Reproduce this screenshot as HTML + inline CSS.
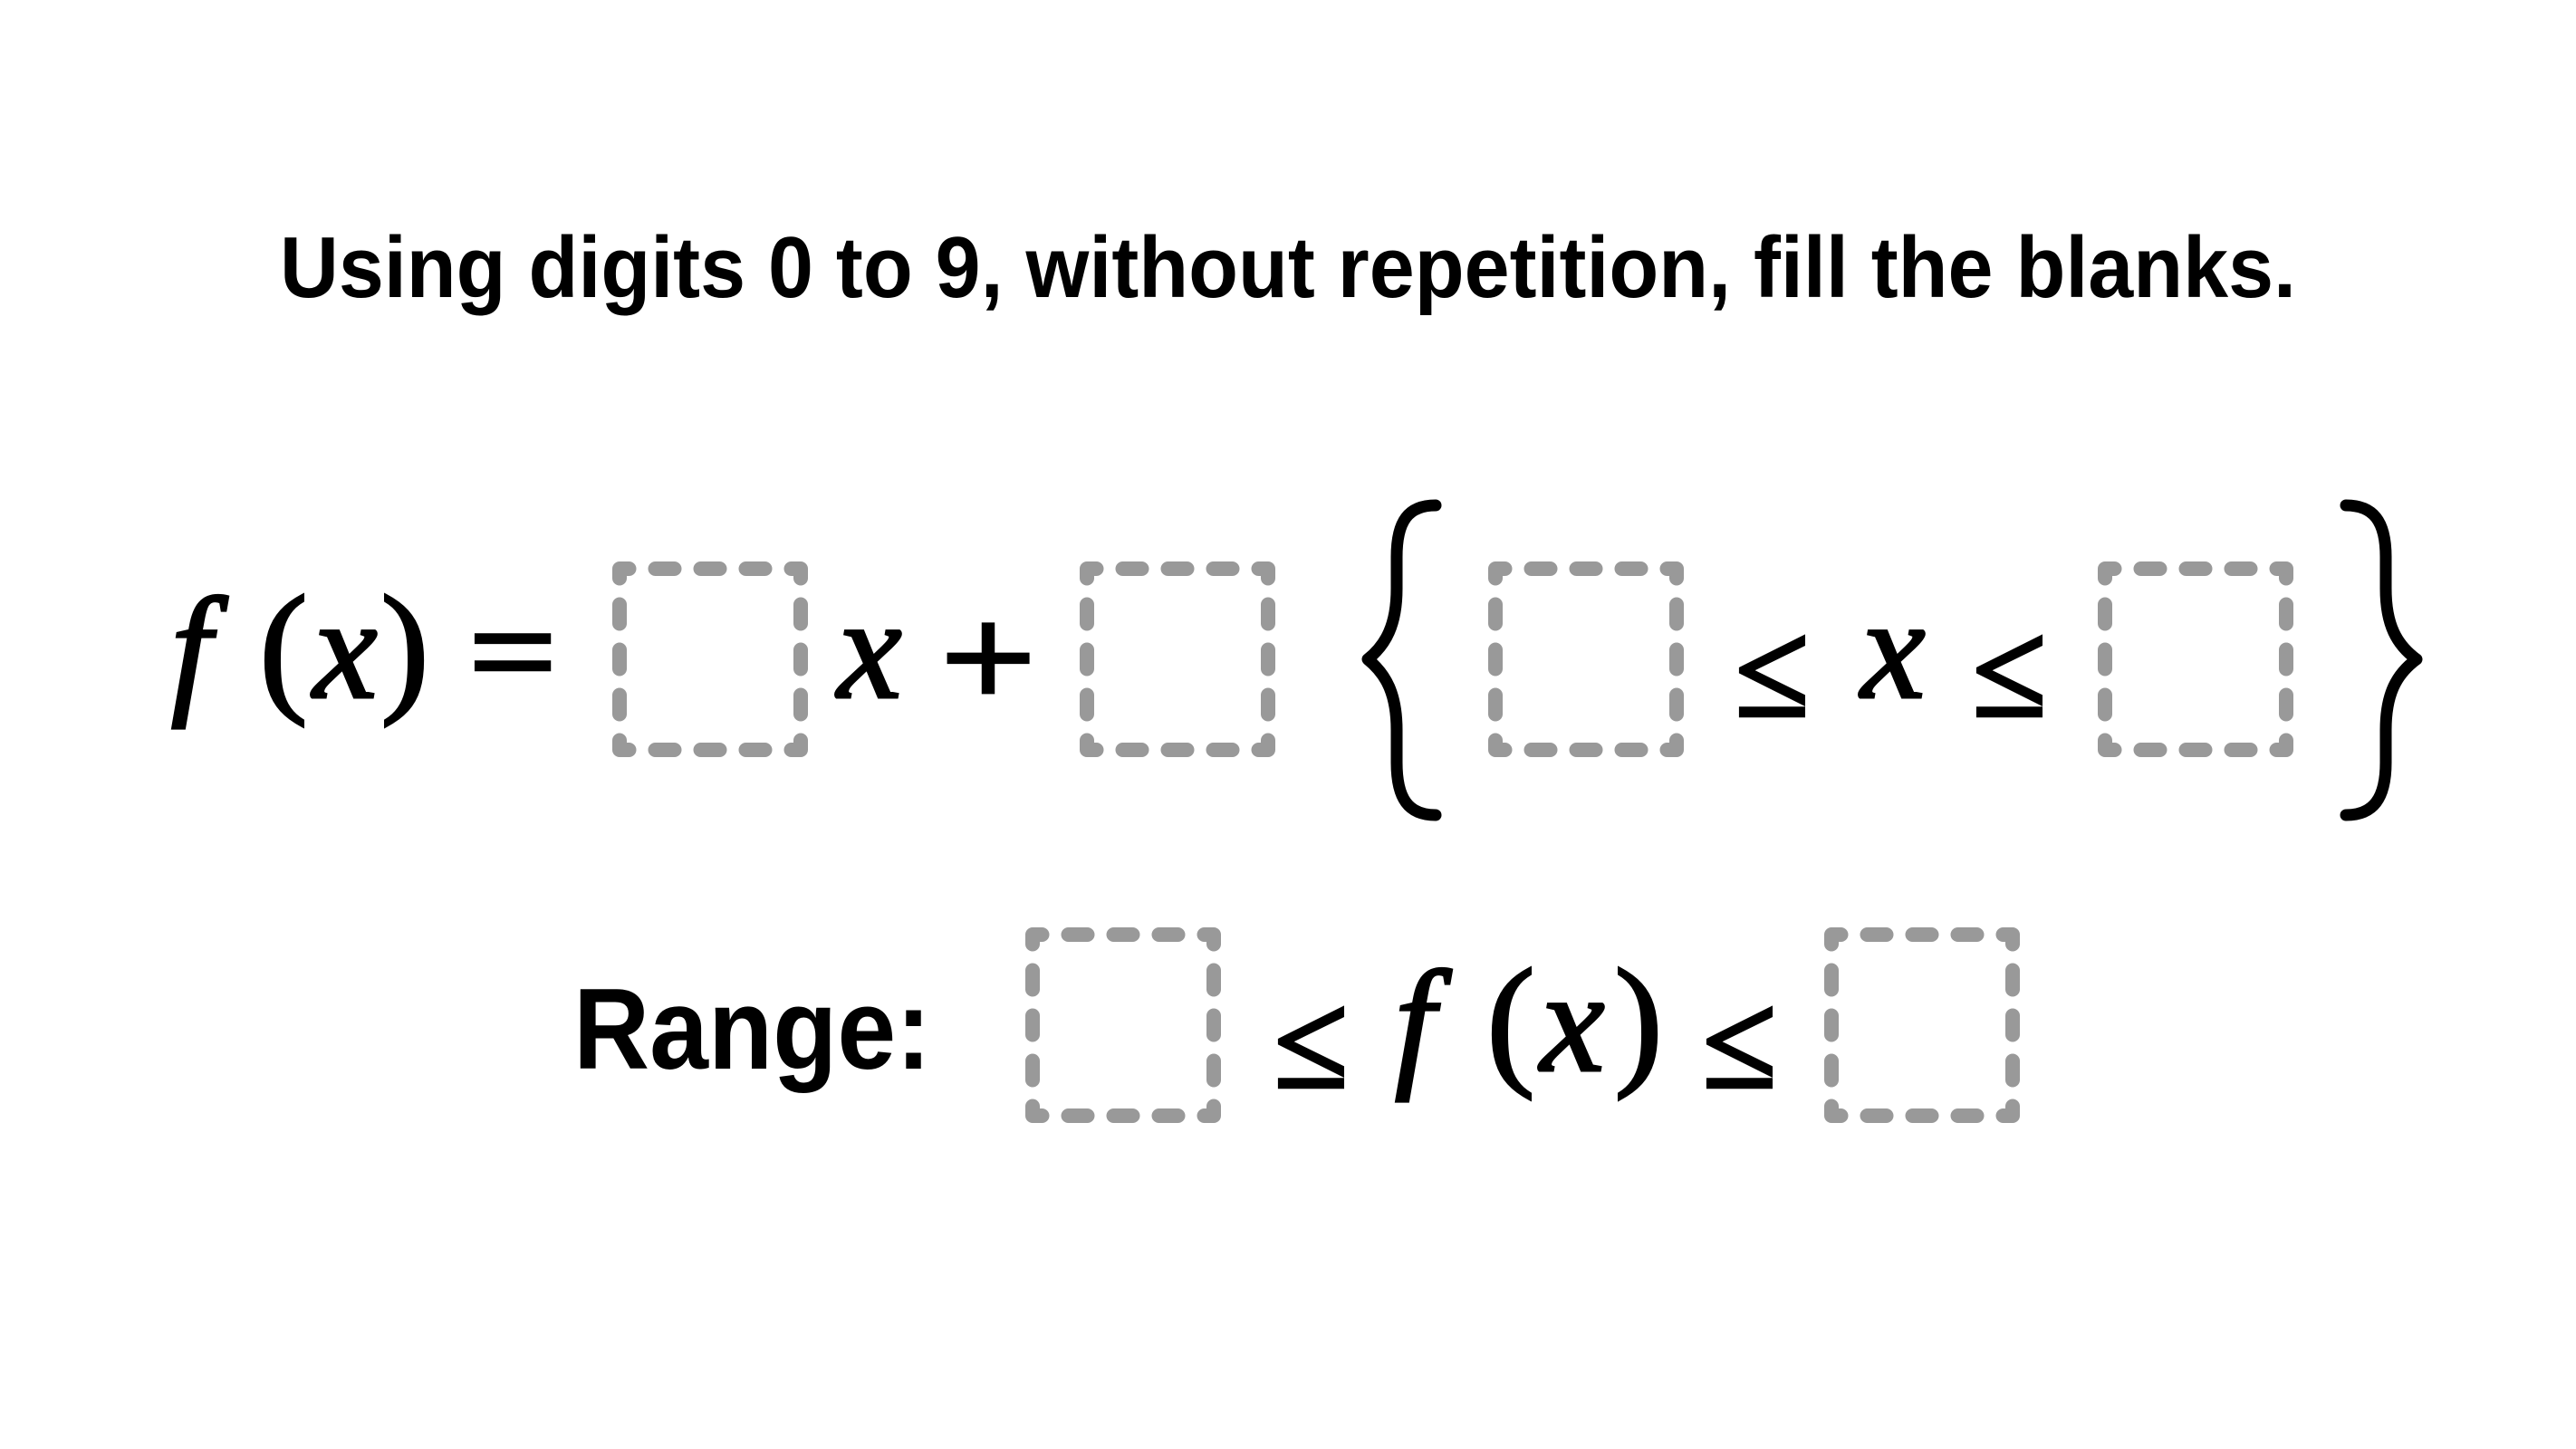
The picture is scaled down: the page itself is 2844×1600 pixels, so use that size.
<!DOCTYPE html>
<html><head><meta charset="utf-8"><style>
html,body{margin:0;padding:0;background:#fff;}
svg{display:block;}
.m{font-family:"Liberation Serif",serif;fill:#000;stroke:#000;stroke-width:3;}
.s{stroke-width:4.5;}
.b{fill:none;stroke:#999;stroke-width:16;stroke-linecap:round;stroke-linejoin:round;stroke-dasharray:21 29;stroke-dashoffset:10.5;}
.br{fill:none;stroke:#000;stroke-width:13;stroke-linecap:round;stroke-linejoin:round;}
</style></head><body>
<svg width="2844" height="1600" viewBox="0 0 2844 1600" xmlns="http://www.w3.org/2000/svg">
<rect width="2844" height="1600" fill="#fff"/>
<text x="1422" y="328" text-anchor="middle" font-family="Liberation Sans, sans-serif" font-weight="bold" font-size="96" textLength="2226" lengthAdjust="spacingAndGlyphs">Using digits 0 to 9, without repetition, fill the blanks.</text>

<!-- row 1 -->
<text class="m" x="211" y="770" font-size="160" font-style="italic" text-anchor="middle">f</text>
<text class="m" x="313" y="768" font-size="160" text-anchor="middle">(</text>
<text class="m" x="381" y="770" font-size="160" font-style="italic" text-anchor="middle">x</text>
<text class="m" x="447" y="768" font-size="160" text-anchor="middle">)</text>
<text class="m s" x="518" y="770" font-size="150" textLength="96" lengthAdjust="spacingAndGlyphs">=</text>
<text class="m" x="960" y="770" font-size="160" font-style="italic" text-anchor="middle">x</text>
<text class="m s" x="1039" y="780" font-size="160" textLength="104" lengthAdjust="spacingAndGlyphs">+</text>
<text class="m s" x="1916" y="790" font-size="150" textLength="81" lengthAdjust="spacingAndGlyphs">≤</text>
<text class="m" x="2090" y="770" font-size="160" font-style="italic" text-anchor="middle">x</text>
<text class="m s" x="2178" y="790" font-size="150" textLength="81" lengthAdjust="spacingAndGlyphs">≤</text>

<path class="b" d="M684 628 h200 v200 h-200 z"/>
<path class="b" d="M1200 628 h200 v200 h-200 z"/>
<path class="b" d="M1651 628 h200 v200 h-200 z"/>
<path class="b" d="M2324 628 h200 v200 h-200 z"/>

<path class="br" d="M1585 558 C1555 558 1542 575 1542 615 L1542 650 C1542 690 1530 712 1510 728 C1530 744 1542 766 1542 806 L1542 842 C1542 882 1555 900 1585 900"/>
<path class="br" d="M2590 558 C2620 558 2634 575 2634 615 L2634 650 C2634 690 2646 712 2668 728 C2646 744 2634 766 2634 806 L2634 842 C2634 882 2620 900 2590 900"/>

<!-- row 2 -->
<text x="633" y="1180" font-family="Liberation Sans, sans-serif" font-weight="bold" font-size="127" textLength="395" lengthAdjust="spacingAndGlyphs">Range:</text>
<path class="b" d="M1140 1032 h200 v200 h-200 z"/>
<path class="b" d="M2022 1032 h200 v200 h-200 z"/>
<text class="m s" x="1407" y="1200" font-size="150" textLength="81" lengthAdjust="spacingAndGlyphs">≤</text>
<text class="m" x="1562" y="1182" font-size="160" font-style="italic" text-anchor="middle">f</text>
<text class="m" x="1668" y="1180" font-size="160" text-anchor="middle">(</text>
<text class="m" x="1736" y="1182" font-size="160" font-style="italic" text-anchor="middle">x</text>
<text class="m" x="1809" y="1180" font-size="160" text-anchor="middle">)</text>
<text class="m s" x="1880" y="1200" font-size="150" textLength="81" lengthAdjust="spacingAndGlyphs">≤</text>
</svg>
</body></html>
